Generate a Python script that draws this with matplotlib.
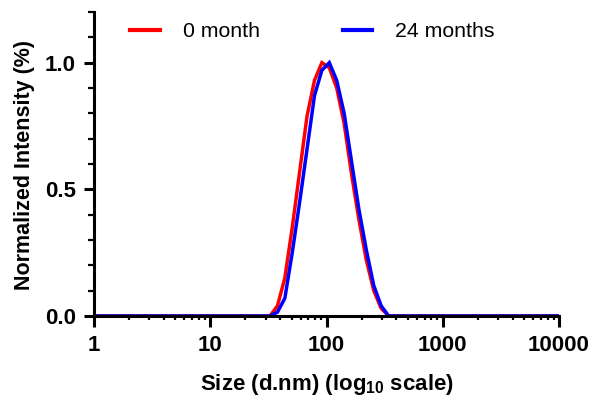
import numpy as np
import matplotlib
matplotlib.use("Agg")
import matplotlib.pyplot as plt
from matplotlib.ticker import FixedLocator, MultipleLocator, LogLocator, NullFormatter

plt.rcParams['font.family'] = ['Liberation Sans', 'DejaVu Sans']
plt.rcParams['mathtext.fontset'] = 'custom'
plt.rcParams['mathtext.rm'] = 'Liberation Sans'
plt.rcParams['mathtext.bf'] = 'Liberation Sans:bold'

# size bins (d.nm), DLS log-spaced classes
size_nm = [0.9649, 1.117, 1.294, 1.499, 1.736, 2.010, 2.328, 2.696, 3.122, 3.615,
           4.187, 4.849, 5.615, 6.503, 7.531, 8.721, 10.10, 11.70, 13.54, 15.69,
           18.17, 21.04, 24.36, 28.21, 32.67, 37.84, 43.82, 50.75, 58.77, 68.06,
           78.82, 91.28, 105.7, 122.4, 141.8, 164.2, 190.1, 220.2, 255.0, 295.3,
           342.0, 396.1, 458.7, 531.2, 615.1, 712.4, 825.0, 955.4, 1106, 1281,
           1484, 1718, 1990, 2305, 2669, 3091, 3580, 4145, 4801, 5560, 6439,
           7456, 8635, 10000]

# normalized intensity, non-zero part (bins 32.67 .. 342.0)
peak_0m = [0.0, 0.04, 0.15, 0.35, 0.57, 0.79, 0.93, 1.0, 0.98, 0.90,
           0.76, 0.56, 0.38, 0.22, 0.10, 0.03, 0.0]
peak_24m = [0.0, 0.015, 0.07, 0.25, 0.45, 0.66, 0.87, 0.97, 1.0, 0.93,
            0.80, 0.61, 0.42, 0.26, 0.12, 0.04, 0.0]
first_bin = 24  # index of 32.67 nm

labels = ['0 month', '24 months']
colors = ['#ff0000', '#0000ff']


def full_series(peak):
    y = np.zeros(len(size_nm))
    y[first_bin:first_bin + len(peak)] = peak
    return y


fig = plt.figure(figsize=(5.93, 3.96), dpi=100)
ax = fig.add_axes([0.1585, 0.1957, 0.7842, 0.774])

for peak, lab, c in zip([peak_0m, peak_24m], labels, colors):
    ax.plot(size_nm, full_series(peak), color=c, lw=2.5, label=lab, solid_joinstyle='miter')

ax.set_xscale('log')
ax.set_xlim(1, 10000)
ax.set_ylim(-0.01, 1.2)

for s in ['top', 'right']:
    ax.spines[s].set_visible(False)
ax.spines['bottom'].set_position(('data', 0))
ax.spines['left'].set_bounds(0, 1.2)
for s in ['bottom', 'left']:
    ax.spines[s].set_linewidth(2.2)
    ax.spines[s].set_color('black')

ax.xaxis.set_major_locator(FixedLocator([1, 10, 100, 1000, 10000]))
ax.set_xticklabels(['1', '10', '100', '1000', '10000'])
ax.xaxis.set_minor_locator(LogLocator(base=10, subs=np.arange(2, 10)))
ax.xaxis.set_minor_formatter(NullFormatter())
ax.yaxis.set_major_locator(FixedLocator([0, 0.5, 1.0]))
ax.set_yticklabels(['0.0', '0.5', '1.0'])
ax.yaxis.set_minor_locator(MultipleLocator(0.1))

ax.tick_params(axis='both', which='major', direction='out', width=2.2, length=7,
               labelsize=16, pad=6)
ax.tick_params(axis='x', which='major', length=8)
ax.tick_params(axis='both', which='minor', direction='out', width=1.6, length=4)
ax.tick_params(axis='x', which='minor', length=3)
for t in ax.get_xticklabels() + ax.get_yticklabels():
    t.set_fontweight('bold')

ax.set_xlabel(r'Size (d.nm) (log$_{\mathbf{10}}$ scale)', fontsize=16, fontweight='bold',
              labelpad=11)
ax.set_ylabel('Normalized Intensity (%)', fontsize=15.5, fontweight='bold', labelpad=7)

leg = ax.legend(loc='center left', bbox_to_anchor=(0.0774, 0.935), ncol=2, frameon=False,
                borderpad=0, borderaxespad=0,
                fontsize=15.3, handlelength=1.4, handletextpad=1.08, columnspacing=3.9)
for h in leg.legend_handles:
    h.set_linewidth(3)

fig.savefig('out.png', dpi=100)
